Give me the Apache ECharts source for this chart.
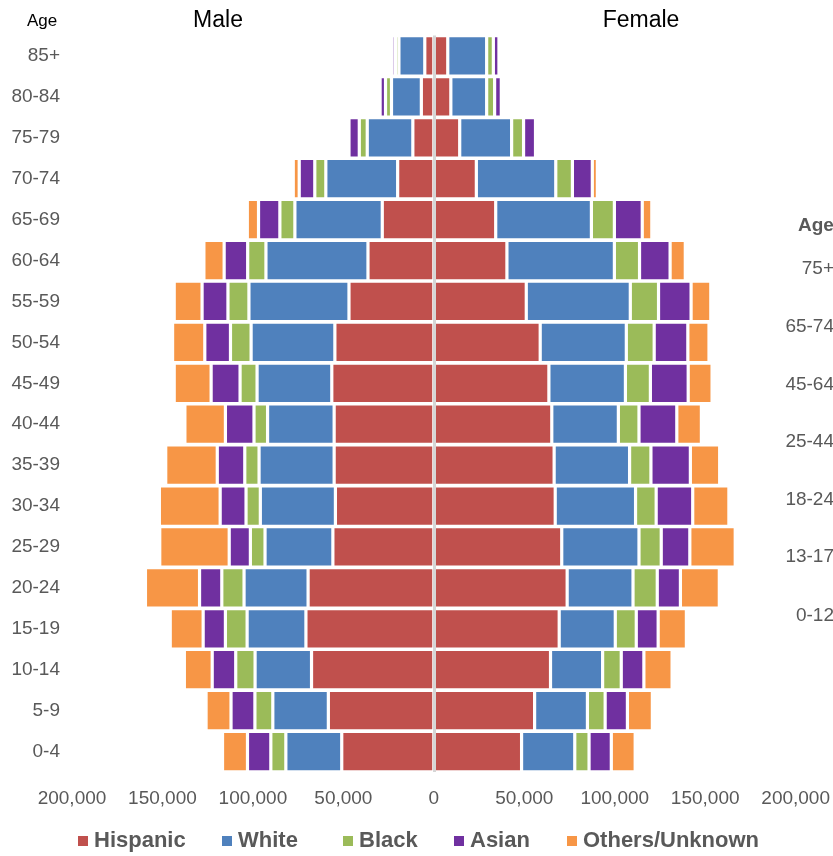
<!DOCTYPE html>
<html>
<head>
<meta charset="utf-8">
<script src="https://cdn.jsdelivr.net/npm/echarts@6/dist/echarts.min.js"></script>
<style>
  html, body { margin: 0; padding: 0; background: #fff; }
  #chart { width: 833px; height: 856px; }
</style>
</head>
<body>
<div id="chart"></div>
<script>
// Age groups, bottom to top
const ages = ['0-4','5-9','10-14','15-19','20-24','25-29','30-34','35-39','40-44','45-49','50-54','55-59','60-64','65-69','70-74','75-79','80-84','85+'];
const groups = ['Hispanic','White','Black','Asian','Others/Unknown'];

// Male counts (shown to the left)
const maleHispanic = [50900,58300,67600,70700,69500,55800,54400,55100,55100,56400,54700,46900,36400,28500,20000,11600,6900,5000];
const maleWhite    = [30900,30700,31200,32500,35400,37500,41500,41500,36800,41300,46300,55300,56400,48300,39700,25200,16500,14300];
const maleBlack    = [8300,9900,10700,12000,12300,8100,7900,7900,7500,9400,11400,11600,10100,8300,6100,4400,3300,1900];
const maleAsian    = [12900,13200,13000,12300,12300,11700,14300,15200,15800,16000,14200,14300,13000,11800,8600,5700,3000,1900];
const maleOthers   = [13800,13800,15400,18200,29900,38400,33600,28500,22400,20400,17800,15400,11200,6200,3300,1300,300,300];

// Female counts (shown to the right)
const femaleHispanic = [48500,55700,64500,69300,73700,70700,67100,66500,65200,63600,58800,51100,40400,34200,23500,14300,9400,7700];
const femaleWhite    = [29400,29200,28800,31000,36400,42700,44400,41700,36800,42300,47600,57500,59400,52900,43900,28700,19800,21500];
const femaleBlack    = [7900,9800,10300,11600,13400,12300,11400,11800,11400,13800,15400,15600,13900,12700,9200,6600,4400,3700];
const femaleAsian    = [12300,12300,12500,12100,12800,15800,20200,21800,20900,20900,18600,18000,16900,15400,11000,6600,3700,3100];
const femaleOthers   = [13200,13800,15600,15600,21500,25100,20000,16200,13600,13200,11700,10900,8400,5300,2800,1500,300,300];

// Tick labels of the partly visible neighbouring chart at the right edge
const sideAges = ['75+','65-74','45-64','25-44','18-24','13-17','0-12'];

const colors = ['#C0504D','#4F81BD','#9BBB59','#7030A0','#F79646'];
const maleData = [maleHispanic, maleWhite, maleBlack, maleAsian, maleOthers];
const femaleData = [femaleHispanic, femaleWhite, femaleBlack, femaleAsian, femaleOthers];

const FONT = 'Liberation Sans, Arial, sans-serif';
const GRAY = '#595959';

const series = [];
groups.forEach((g, i) => {
  series.push({
    name: g, type: 'bar', stack: 'all', stackStrategy: 'samesign',
    data: maleData[i].map(v => -v),
    barCategoryGap: '1%',
    itemStyle: { color: colors[i], borderColor: '#ffffff', borderWidth: 1.6 },
    emphasis: { disabled: true },
    markLine: i === 0 ? {
      silent: true, symbol: ['none','none'], label: { show: false },
      lineStyle: { color: '#d6d6d6', width: 3, type: 'solid' },
      data: [{ xAxis: 0 }], animation: false, z: 10
    } : undefined
  });
  series.push({
    name: g, type: 'bar', stack: 'all', stackStrategy: 'samesign',
    data: femaleData[i],
    barCategoryGap: '1%',
    itemStyle: { color: colors[i], borderColor: '#ffffff', borderWidth: 1.6 },
    emphasis: { disabled: true }
  });
});

const legendLefts = [76, 220, 341, 452, 565];
const legends = groups.map((g, i) => ({
  data: [g], left: legendLefts[i], top: 830, padding: 0,
  icon: 'rect', itemWidth: 12, itemHeight: 12, itemGap: 8,
  selectedMode: false,
  textStyle: { fontFamily: FONT, fontSize: 22, fontWeight: 'bold', color: GRAY, lineHeight: 22 }
}));

const sideY = [269, 327, 385, 442, 500, 557, 616];
const graphics = [
  { type: 'text', left: 27, top: 13, style: { text: 'Age', font: '17px ' + FONT, fill: '#000' } },
  { type: 'text', x: 218, y: 21, style: { text: 'Male', font: '23px ' + FONT, fill: '#000', textAlign: 'center', textVerticalAlign: 'middle' } },
  { type: 'text', x: 641, y: 21, style: { text: 'Female', font: '23px ' + FONT, fill: '#000', textAlign: 'center', textVerticalAlign: 'middle' } },
  { type: 'text', x: 798, y: 226, style: { text: 'Age', font: 'bold 19px ' + FONT, fill: GRAY, textAlign: 'left', textVerticalAlign: 'middle' } }
];
sideAges.forEach((t, i) => {
  graphics.push({ type: 'text', x: 834, y: sideY[i], style: { text: t, font: '19px ' + FONT, fill: GRAY, textAlign: 'right', textVerticalAlign: 'middle' } });
});

const chart = echarts.init(document.getElementById('chart'), null, { renderer: 'canvas' });
chart.setOption({
  animation: false,
  grid: { left: 72, right: 36, top: 35.5, bottom: 84, containLabel: false },
  xAxis: {
    type: 'value', min: -200000, max: 200000, interval: 50000,
    axisLine: { show: false }, axisTick: { show: false }, splitLine: { show: false },
    axisLabel: {
      color: GRAY, fontSize: 19, fontFamily: FONT, margin: 17,
      formatter: v => Math.abs(v).toLocaleString('en-US')
    }
  },
  yAxis: {
    type: 'category', data: ages, position: 'left',
    axisLine: { show: false, onZero: false }, axisTick: { show: false }, splitLine: { show: false },
    axisLabel: { color: GRAY, fontSize: 19, fontFamily: FONT, margin: 12 }
  },
  legend: legends,
  graphic: graphics,
  series: series
});
</script>
</body>
</html>
